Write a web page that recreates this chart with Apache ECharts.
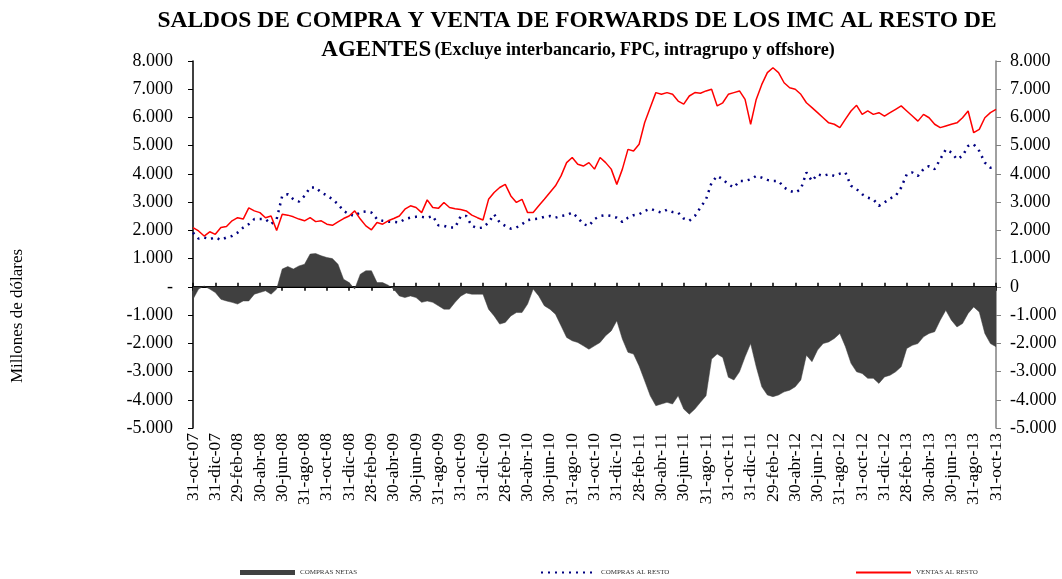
<!DOCTYPE html>
<html>
<head>
<meta charset="utf-8">
<script src="https://cdn.jsdelivr.net/npm/echarts@6/dist/echarts.min.js"></script>
<style>
  html, body { margin: 0; padding: 0; background: #fff; }
  #main { width: 1062px; height: 579px; }
</style>
</head>
<body>
<div id="main"></div>
<script>
// fin de mes, oct-07 a oct-13 (etiquetas cada 2 meses)
var monthEnds = [
  '31-oct-07','30-nov-07','31-dic-07','31-ene-08','29-feb-08','31-mar-08','30-abr-08','31-may-08','30-jun-08','31-jul-08','31-ago-08','30-sep-08',
  '31-oct-08','30-nov-08','31-dic-08','31-ene-09','28-feb-09','31-mar-09','30-abr-09','31-may-09','30-jun-09','31-jul-09','31-ago-09','30-sep-09',
  '31-oct-09','30-nov-09','31-dic-09','31-ene-10','28-feb-10','31-mar-10','30-abr-10','31-may-10','30-jun-10','31-jul-10','31-ago-10','30-sep-10',
  '31-oct-10','30-nov-10','31-dic-10','31-ene-11','28-feb-11','31-mar-11','30-abr-11','31-may-11','30-jun-11','31-jul-11','31-ago-11','30-sep-11',
  '31-oct-11','30-nov-11','31-dic-11','31-ene-12','29-feb-12','31-mar-12','30-abr-12','31-may-12','30-jun-12','31-jul-12','31-ago-12','30-sep-12',
  '31-oct-12','30-nov-12','31-dic-12','31-ene-13','28-feb-13','31-mar-13','30-abr-13','31-may-13','30-jun-13','31-jul-13','31-ago-13','30-sep-13',
  '31-oct-13'
];

// datos quincenales (millones de dólares)
var comprasNetas = [
  -440, -80, 30, -80, -200, -440, -500, -550, -610, -500, -500, -260, -200, -140, -260, -80,
  630, 720, 630, 740, 800, 1160, 1180, 1100, 1040, 1000, 800, 270, 150, -80, 450, 570,
  570, 150, 150, 60, -80, -320, -380, -320, -380, -550, -500, -550, -670, -790, -790, -550,
  -330, -220, -260, -260, -260, -790, -1030, -1320, -1260, -1030, -910, -910, -610, -80, -320, -670,
  -790, -970, -1380, -1790, -1910, -1970, -2090, -2210, -2090, -1970, -1730, -1560, -1200, -1850, -2320, -2380,
  -2800, -3330, -3860, -4210, -4150, -4090, -4150, -3860, -4330, -4510, -4330, -4090, -3860, -2560, -2380, -2500,
  -3200, -3300, -3010, -2480, -2010, -2830, -3540, -3830, -3890, -3830, -3720, -3660, -3540, -3300, -2420, -2650,
  -2240, -2010, -1950, -1830, -1650, -2120, -2710, -3010, -3070, -3240, -3240, -3420, -3190, -3130, -3010, -2830,
  -2180, -2070, -2010, -1770, -1650, -1590, -1180, -830, -1180, -1420, -1300, -940, -710, -890, -1650, -2010,
  -2120
];
var comprasAlResto = [
  1920, 1710, 1750, 1690, 1750, 1660, 1750, 1800, 1920, 2100, 2220, 2400, 2400, 2400, 2220, 2400,
  3220, 3280, 3100, 3020, 3220, 3520, 3520, 3340, 3240, 3100, 2930, 2690, 2570, 2510, 2650, 2670,
  2630, 2400, 2340, 2310, 2300, 2280, 2400, 2450, 2480, 2480, 2450, 2510, 2180, 2160, 2100, 2100,
  2500, 2510, 2160, 2080, 2100, 2280, 2570, 2280, 2160, 2060, 2100, 2220, 2360, 2400, 2420, 2480,
  2510, 2450, 2510, 2540, 2630, 2450, 2220, 2160, 2400, 2510, 2540, 2510, 2450, 2300, 2450, 2540,
  2570, 2690, 2770, 2690, 2630, 2730, 2650, 2630, 2420, 2340, 2510, 2810, 3100, 3690, 3930, 3810,
  3630, 3520, 3750, 3750, 3810, 3930, 3870, 3790, 3750, 3750, 3520, 3400, 3340, 3460, 4050, 3750,
  3990, 3930, 3990, 3930, 4010, 4050, 3580, 3460, 3280, 3160, 3100, 2870, 2990, 3130, 3220, 3520,
  3990, 4050, 3930, 4170, 4280, 4170, 4520, 4870, 4760, 4520, 4640, 4990, 5050, 4810, 4400, 4220,
  4280
];
var ventasAlResto = [
  2100, 1980, 1800, 1950, 1860, 2100, 2140, 2340, 2450, 2400, 2800, 2690, 2630, 2450, 2510, 2000,
  2570, 2540, 2480, 2400, 2340, 2450, 2310, 2340, 2220, 2180, 2300, 2420, 2510, 2690, 2400, 2160,
  2020, 2280, 2220, 2340, 2420, 2510, 2750, 2870, 2810, 2630, 3080, 2810, 2780, 2990, 2810, 2770,
  2740, 2690, 2540, 2450, 2370, 3100, 3340, 3520, 3630, 3220, 2990, 3100, 2630, 2630, 2870, 3100,
  3340, 3580, 3930, 4400, 4580, 4340, 4280, 4400, 4170, 4580, 4400, 4170, 3630, 4170, 4870, 4810,
  5050, 5820, 6350, 6880, 6820, 6880, 6820, 6580, 6470, 6760, 6880, 6860, 6940, 7000, 6410, 6520,
  6820, 6880, 6940, 6640, 5760, 6640, 7170, 7590, 7760, 7590, 7230, 7050, 7000, 6820, 6520, 6350,
  6170, 5990, 5810, 5760, 5640, 5940, 6230, 6430, 6110, 6230, 6110, 6170, 6050, 6170, 6290, 6410,
  6230, 6050, 5870, 6110, 5990, 5760, 5640, 5700, 5760, 5810, 5990, 6230, 5460, 5580, 5990, 6170,
  6290
];

// categorías quincenales: fin de mes y día 15 del mes siguiente
var categories = [];
for (var m = 0; m < monthEnds.length; m++) {
  categories.push(monthEnds[m]);
  if (m < monthEnds.length - 1) {
    categories.push('15' + monthEnds[m + 1].slice(2));
  }
}

var serif = '"Liberation Serif", "Times New Roman", serif';

function fmtMiles(v) {
  var s = Math.abs(v).toString();
  if (s.length > 3) s = s.slice(0, s.length - 3) + '.' + s.slice(s.length - 3);
  return (v < 0 ? '-' : '') + s;
}

var chart = echarts.init(document.getElementById('main'));

var zeroAxis = function (inside) {
  return {
    type: 'category',
    data: categories,
    boundaryGap: false,
    axisLine: { show: true, onZero: true, onZeroAxisIndex: 0, lineStyle: { color: '#000', width: 2 } },
    axisTick: { show: true, inside: inside, interval: 3, length: 4, lineStyle: { color: '#000', width: 1.5 } },
    axisLabel: { show: false },
    splitLine: { show: false }
  };
};

var legendText = { fontSize: 7, color: '#333', fontFamily: serif };

var option = {
  animation: false,
  backgroundColor: '#fff',
  grid: { left: 193, right: 66, top: 61, bottom: 151 },
  graphic: [
    {
      type: 'text', x: 577, y: 9,
      style: { text: 'SALDOS DE COMPRA Y VENTA DE FORWARDS DE LOS IMC AL RESTO DE', font: 'bold 23.5px ' + serif, fill: '#000', align: 'center' }
    },
    {
      type: 'text', x: 578, y: 39,
      style: {
        text: '{a|AGENTES} {b|(Excluye interbancario, FPC, intragrupo y offshore)}',
        align: 'center',
        rich: {
          a: { font: 'bold 23px ' + serif, fill: '#000' },
          b: { font: 'bold 18px ' + serif, fill: '#000' }
        }
      }
    },
    {
      type: 'text', x: 18, y: 316, rotation: Math.PI / 2,
      style: { text: 'Millones de dólares', font: '17px ' + serif, fill: '#000', align: 'center', verticalAlign: 'middle' }
    }
  ],
  legend: [
    { data: [{ name: 'COMPRAS NETAS', icon: 'rect' }], left: 235, top: 564, itemWidth: 55, itemHeight: 5, itemGap: 3, textStyle: legendText },
    { data: ['COMPRAS AL RESTO'], left: 535, top: 564, itemWidth: 55, itemHeight: 5, itemGap: 3, itemStyle: { opacity: 0 }, textStyle: legendText },
    { data: ['VENTAS AL RESTO'], left: 850, top: 564, itemWidth: 55, itemHeight: 5, itemGap: 3, itemStyle: { opacity: 0 }, textStyle: legendText }
  ],
  xAxis: [
    {
      type: 'category',
      data: categories,
      boundaryGap: false,
      position: 'bottom',
      axisLine: { show: false, onZero: false },
      axisTick: { show: false },
      axisLabel: {
        interval: 3, rotate: 90, margin: 5,
        fontFamily: serif, fontSize: 17.5, color: '#000'
      },
      splitLine: { show: false }
    },
    zeroAxis(true),
    zeroAxis(false)
  ],
  yAxis: [
    {
      type: 'value', min: -5000, max: 8000, interval: 1000, position: 'left',
      axisLine: { show: true, lineStyle: { color: '#000', width: 1.5 } },
      axisTick: { show: true, length: 5, lineStyle: { color: '#000' } },
      axisLabel: {
        fontFamily: serif, fontSize: 18, color: '#000', margin: 20,
        formatter: function (v) { return v === 0 ? '-' : fmtMiles(v); }
      },
      splitLine: { show: false }
    },
    {
      type: 'value', min: -5000, max: 8000, interval: 1000, position: 'right',
      axisLine: { show: true, lineStyle: { color: '#808080', width: 1.5 } },
      axisTick: { show: true, length: 5, lineStyle: { color: '#808080' } },
      axisLabel: {
        fontFamily: serif, fontSize: 18, color: '#000', margin: 14,
        formatter: function (v) { return v === 0 ? '0' : fmtMiles(v); }
      },
      splitLine: { show: false }
    }
  ],
  series: [
    {
      name: 'COMPRAS NETAS', type: 'line', data: comprasNetas, symbol: 'none',
      lineStyle: { width: 0.5, color: '#404040' },
      itemStyle: { color: '#404040' },
      areaStyle: { color: '#404040', opacity: 1 },
      z: 1
    },
    {
      name: 'COMPRAS AL RESTO', type: 'line', data: comprasAlResto, symbol: 'none',
      lineStyle: { width: 2.5, color: '#000080', type: [2, 5] },
      itemStyle: { color: '#000080' },
      z: 3
    },
    {
      name: 'VENTAS AL RESTO', type: 'line', data: ventasAlResto, symbol: 'none',
      lineStyle: { width: 1.5, color: '#ff0000' },
      itemStyle: { color: '#ff0000' },
      z: 4
    }
  ]
};

chart.setOption(option);
</script>
</body>
</html>
